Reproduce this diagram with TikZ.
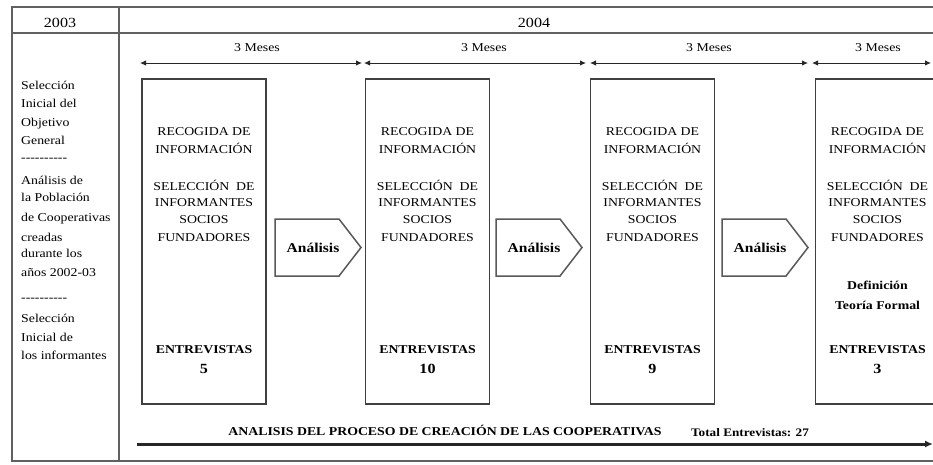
\documentclass[tikz,border=0pt]{standalone}
\usepackage{fontspec}
\setmainfont{Liberation Serif}[FakeStretch=1.15]
\usetikzlibrary{arrows.meta}
\tikzset{
  frameline/.style={draw=black!62, line width=2.4pt},
  stagebox/.style={draw=black!75, line width=1.1pt, minimum width=124pt, minimum height=325pt, inner sep=0pt},
  captxt/.style={anchor=base, inner sep=0pt, font=\fontsize{12}{14}\selectfont},
  boldtxt/.style={anchor=base, inner sep=0pt, font=\fontsize{12}{14}\selectfont\bfseries},
  numtxt/.style={anchor=base, inner sep=0pt, font=\fontsize{14}{16}\selectfont\bfseries},
  lefttxt/.style={anchor=base west, inner sep=0pt, font=\fontsize{12}{14}\selectfont},
  yeartxt/.style={anchor=base, inner sep=0pt, font=\fontsize{14}{16}\selectfont},
  mesestxt/.style={anchor=base, inner sep=0pt, font=\fontsize{12}{14}\selectfont},
  mesesarrow/.style={draw=black!85, line width=1pt, {Latex[length=6pt,width=5.5pt]}-{Latex[length=6pt,width=5.5pt]}},
  pentagon/.style={draw=black!65, line width=1.5pt, line join=miter},
  analysistxt/.style={anchor=base, inner sep=0pt, font=\fontsize{13.5}{15}\selectfont\bfseries},
  mainarrow/.style={draw=black!85, line width=3pt, -{Latex[length=8pt,width=7pt]}},
}
\newcommand\stagecol[3]{%
  \node[stagebox] (box#1) at (#2,241.5) {};
  \node[captxt] (rec#1a) at (#2,135) {RECOGIDA DE};
  \node[captxt] (rec#1b) at (#2,153) {INFORMACIÓN};
  \node[captxt] (sel#1a) at (#2,190) {SELECCIÓN~ DE};
  \node[captxt] (sel#1b) at (#2,206) {INFORMANTES};
  \node[captxt] (sel#1c) at (#2,223) {SOCIOS};
  \node[captxt] (sel#1d) at (#2,241) {FUNDADORES};
  \node[boldtxt] (ent#1) at (#2,353) {ENTREVISTAS};
  \node[numtxt] (num#1) at (#2,373) {#3};
}
% pentagon arrow: #1 id, #2 left x
\newcommand\analysisarrow[2]{%
  \coordinate (an#1nw) at (#2,219);
  \coordinate (an#1ne) at ({#2+64},219);
  \coordinate (an#1tip) at ({#2+86},247.5);
  \coordinate (an#1se) at ({#2+64},276);
  \coordinate (an#1sw) at (#2,276);
  \draw[pentagon] (an#1nw) -- (an#1ne) -- (an#1tip) -- (an#1se) -- (an#1sw) -- cycle;
  \node[analysistxt] (an#1) at ({#2+38},252) {Análisis};
}
\begin{document}
\begin{tikzpicture}[x=1pt,y=-1pt]
\clip (0,0) rectangle (933,464);
\fill[white] (0,0) rectangle (933,464);
% frame
\coordinate (ftl) at (12,7);
\coordinate (fbr) at (960,461);
\draw[frameline] (ftl) rectangle (fbr);
\coordinate (hl) at (12,33);
\coordinate (hr) at (960,33);
\draw[frameline] (hl) -- (hr);
\coordinate (ct) at (119,7);
\coordinate (cb) at (119,461);
\draw[frameline] (ct) -- (cb);
% years
\node[yeartxt] (y2003) at (60,27) {2003};
\node[yeartxt] (y2004) at (534,27) {2004};
% left column
\node[lefttxt] (l1) at (21,89) {Selección};
\node[lefttxt] (l2) at (21,107) {Inicial del};
\node[lefttxt] (l3) at (21,126) {Objetivo};
\node[lefttxt] (l4) at (21,144) {General};
\node[lefttxt] (l5) at (21,161) {-{}-{}-{}-{}-{}-{}-{}-{}-{}-};
\node[lefttxt] (l6) at (21,184) {Análisis de};
\node[lefttxt] (l7) at (21,201) {la Población};
\node[lefttxt] (l8) at (21,221) {de Cooperativas};
\node[lefttxt] (l9) at (21,241) {creadas};
\node[lefttxt] (l10) at (21,257) {durante los};
\node[lefttxt] (l11) at (21,276) {años 2002-03};
\node[lefttxt] (l12) at (21,301) {-{}-{}-{}-{}-{}-{}-{}-{}-{}-};
\node[lefttxt] (l13) at (21,322) {Selección};
\node[lefttxt] (l14) at (21,341) {Inicial de};
\node[lefttxt] (l15) at (21,359) {los informantes};
% meses arrows
\coordinate (m0) at (140,63);
\coordinate (m1a) at (362,63);
\coordinate (m1b) at (364,63);
\coordinate (m2a) at (586,63);
\coordinate (m2b) at (590,63);
\coordinate (m3a) at (808,63);
\coordinate (m3b) at (812,63);
\coordinate (m4) at (931,63);
\draw[mesesarrow] (m0) -- (m1a);
\draw[mesesarrow] (m1b) -- (m2a);
\draw[mesesarrow] (m2b) -- (m3a);
\draw[mesesarrow] (m3b) -- (m4);
\node[mesestxt] (ms1) at (257,51) {3 Meses};
\node[mesestxt] (ms2) at (484,51) {3 Meses};
\node[mesestxt] (ms3) at (709,51) {3 Meses};
\node[mesestxt] (ms4) at (878,51) {3 Meses};
% stages
\stagecol{1}{204}{5}
\stagecol{2}{427.5}{10}
\stagecol{3}{652.5}{9}
\stagecol{4}{877.5}{3}
\node[boldtxt] (def4a) at (877.5,289) {Definición};
\node[boldtxt] (def4b) at (877.5,309) {Teoría Formal};
% analysis
\analysisarrow{1}{275}
\analysisarrow{2}{496}
\analysisarrow{3}{722}
% bottom
\node[boldtxt, font=\fontsize{12}{14}\selectfont\bfseries] (proc) at (445,435) {ANALISIS DEL PROCESO DE CREACIÓN DE LAS COOPERATIVAS};
\node[boldtxt, font=\fontsize{11.5}{14}\selectfont\bfseries] (total) at (750,436) {Total Entrevistas: 27};
\coordinate (ba) at (137,444);
\coordinate (bb) at (933,444);
\draw[mainarrow] (ba) -- (bb);
\end{tikzpicture}
\end{document}
